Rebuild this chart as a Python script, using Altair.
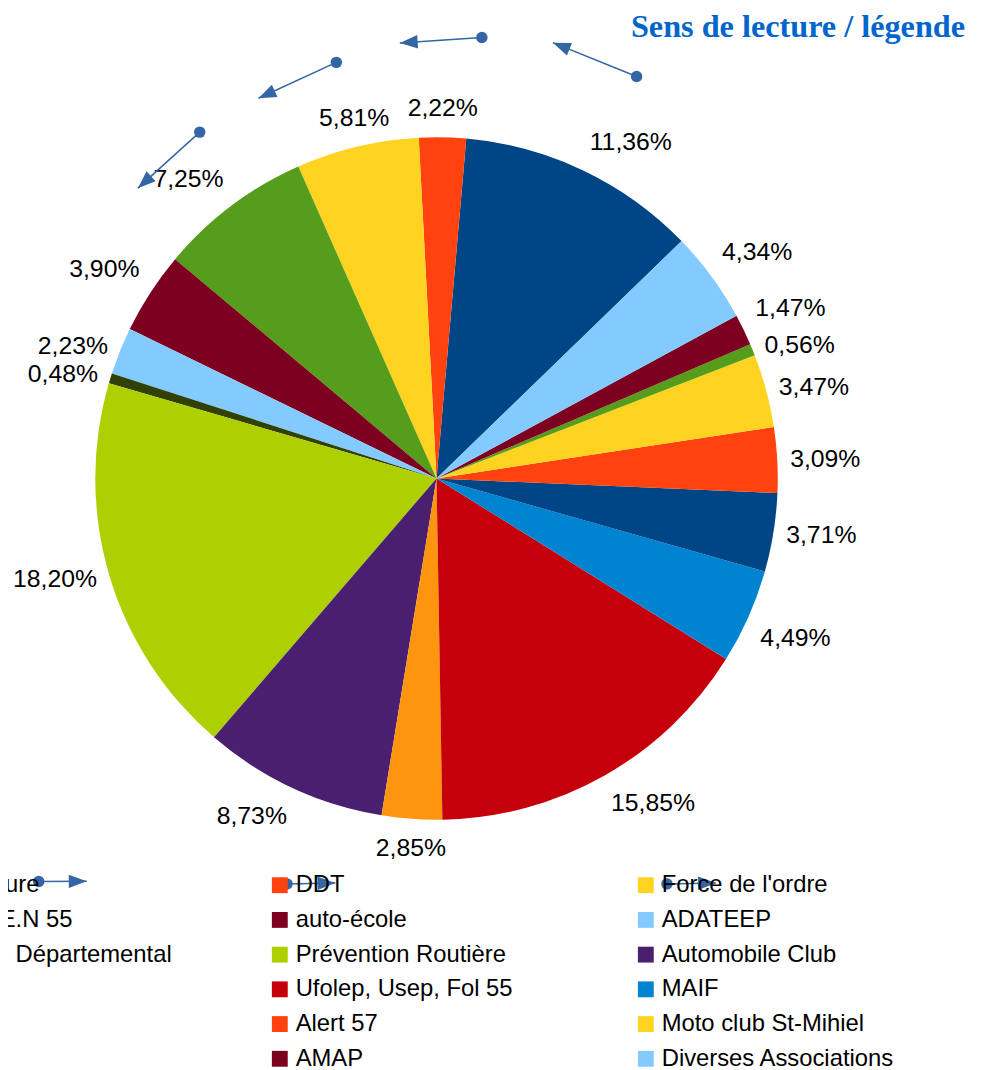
import math
import numpy as np
import pandas as pd
import altair as alt

# ---------------- data ----------------
names = [
    "Préfecture", "DDT", "Force de l'ordre",
    "D.S.D.E.N 55", "auto-école", "ADATEEP",
    "Conseil Départemental", "Prévention Routière", "Automobile Club",
    "SDIS", "Ufolep, Usep, Fol 55", "MAIF",
    "GMF", "Alert 57", "Moto club St-Mihiel",
    "MAAF", "AMAP", "Diverses Associations",
]
values = [11.36, 2.22, 5.81, 7.25, 3.90, 2.23, 0.48, 18.20, 8.73,
          2.85, 15.85, 4.49, 3.71, 3.09, 3.47, 0.56, 1.47, 4.34]
colors = ["#004586", "#ff420e", "#ffd320", "#579d1c", "#7e0021", "#83caff",
          "#314004", "#aecf00", "#4b1f6f", "#ff950e", "#c5000b", "#0084d1",
          "#004586", "#ff420e", "#ffd320", "#579d1c", "#7e0021", "#83caff"]
labels = [f"{v:.2f}%".replace(".", ",") for v in values]

title_text = "Sens de lecture / légende"

# reading-direction arrows (annotation, pixel positions): start dot -> arrow tip
arrow_x = [633.7, 477.7, 331.0, 193.3, 31.0, 281.3, 664.3]
arrow_y = [64.7, 25.4, 50.5, 120.8, 876.3, 878.7, 878.7]
arrow_x2 = [549.3, 395.0, 252.5, 130.9, 79.3, 330.0, 713.7]
arrow_y2 = [30.6, 30.9, 86.7, 177.3, 876.0, 877.7, 877.7]

df = pd.DataFrame({"idx": list(range(1, len(names) + 1)), "name": names,
                   "value": values, "label": labels})

arrows = pd.DataFrame({"x": arrow_x, "y": arrow_y, "x2": arrow_x2, "y2": arrow_y2})
arrows["angle"] = np.degrees(np.arctan2(arrows["y2"] - arrows["y"],
                                        arrows["x2"] - arrows["x"])) % 360

# ---------------- chart ----------------
START = math.radians(45.9)
R = 344
CX, CY = 432, 470          # pie centre = width/2, height/2
RA = R + 13                # label anchor radius
FS = 25                    # label font size
HALF_H = 16.5              # half label box height
BLUE = "#3465a4"

theta = alt.Theta("value:Q", stack=True,
                  scale=alt.Scale(range=[START, START + 2 * math.pi]))
order = alt.Order("idx:Q", sort="descending")

legend = alt.Legend(
    title=None, orient="none", legendX=-107, legendY=868,
    direction="horizontal",
    columns=3, gridAlign="all", columnPadding=96, rowPadding=11,
    symbolType="square", symbolSize=256, symbolStrokeWidth=0,
    symbolOpacity=1, labelFont="Liberation Sans", labelFontSize=24,
    labelColor="black", labelOffset=4, labelLimit=400, padding=0,
)

color = alt.Color("name:N", sort=names,
                  scale=alt.Scale(domain=names, range=colors), legend=legend)

base = alt.Chart(df)

pie = base.mark_arc(outerRadius=R).encode(theta=theta, order=order, color=color)

# label placement: anchor on a circle just outside the pie, text box aligned
# by octant of the slice's middle angle (as the office suite does)
text = base.transform_joinaggregate(
    total="sum(value)"
).transform_window(
    cum="sum(value)", sort=[alt.SortField("idx", order="descending")],
    frame=[None, 0]
).transform_calculate(
    ang=f"{START} + 2*PI*(datum.cum - datum.value/2)/datum.total"
).transform_calculate(
    m="((90 - datum.ang*180/PI) % 360 + 360) % 360",
    tw=f"{0.556*FS}*(length(datum.label)-2) + {(0.278+0.889)*FS}",
).transform_calculate(
    hx="(datum.m < 67.5 || datum.m >= 292.5) ? 1 : ((datum.m > 112.5 && datum.m < 247.5) ? -1 : 0)",
    hy="(datum.m >= 22.5 && datum.m <= 157.5) ? -1 : ((datum.m > 202.5 && datum.m < 337.5) ? 1 : 0)",
).transform_calculate(
    lx=f"{CX} + {RA}*sin(datum.ang) + datum.hx*datum.tw/2",
    ly=f"{CY} - {RA}*cos(datum.ang) + datum.hy*{HALF_H}",
).mark_text(
    font="Liberation Sans", fontSize=FS, color="black",
    align="center", baseline="middle"
).encode(
    x=alt.X("lx:Q", scale=None, axis=None),
    y=alt.Y("ly:Q", scale=None, axis=None),
    text="label:N",
)

arr = alt.Chart(arrows)
lines = arr.mark_rule(color=BLUE, strokeWidth=1.5).encode(
    x=alt.X("x:Q", scale=None, axis=None),
    y=alt.Y("y:Q", scale=None, axis=None),
    x2="x2:Q", y2="y2:Q",
)
dots = arr.mark_point(shape="circle", filled=True, size=133, color=BLUE,
                      opacity=1).encode(
    x=alt.X("x:Q", scale=None, axis=None),
    y=alt.Y("y:Q", scale=None, axis=None),
)
heads = arr.mark_point(shape="M0,0L-2,-0.75L-2,0.75Z", filled=True, size=324,
                       color=BLUE, opacity=1).encode(
    x=alt.X("x2:Q", scale=None, axis=None),
    y=alt.Y("y2:Q", scale=None, axis=None),
    angle=alt.Angle("angle:Q", scale=None),
)

title = alt.Chart(pd.DataFrame({"t": [title_text]})).mark_text(
    font="Liberation Serif", fontSize=32.5, fontWeight="bold", color="#0066cc",
    align="left", baseline="alphabetic"
).encode(x=alt.value(628), y=alt.value(25), text="t:N")

chart = alt.layer(pie, text, lines, dots, heads, title).properties(
    width=864, height=940,
    autosize=alt.AutoSizeParams(type="none"),
    padding={"left": 0, "top": 0, "right": 130, "bottom": 122},
).configure_view(strokeWidth=0)

chart.save("out.html", embed_options={"renderer": "svg", "actions": False})
